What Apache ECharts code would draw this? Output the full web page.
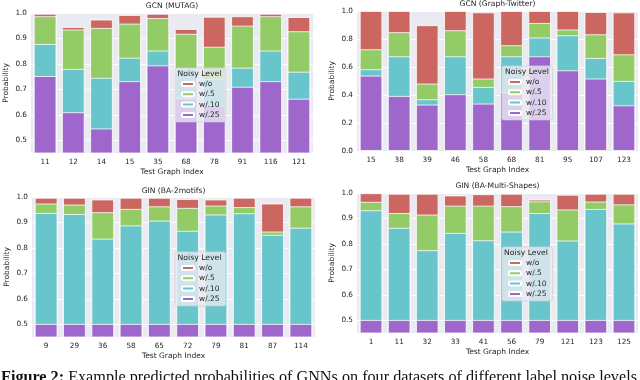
<!DOCTYPE html>
<html>
<head>
<meta charset="utf-8">
<script src="https://cdn.jsdelivr.net/npm/echarts@6/dist/echarts.min.js"></script>
<style>
  html, body { margin: 0; padding: 0; background: #fff; }
  #main { width: 640px; height: 380px; }
</style>
</head>
<body>
<div id="main"></div>
<script>
// legend / noise levels
var levels = ["w/o", "w/.5", "w/.10", "w/.25"];

// GCN (MUTAG)
var mutagIdx = ["11", "12", "14", "15", "35", "68", "78", "91", "116", "121"];
var mutagWo  = [0.997, 0.945, 0.974, 0.992, 0.997, 0.937, 0.985, 0.987, 0.997, 0.984];
var mutagW5  = [0.987, 0.935, 0.941, 0.958, 0.980, 0.918, 0.867, 0.950, 0.987, 0.928];
var mutagW10 = [0.878, 0.780, 0.745, 0.824, 0.852, 0.780, 0.740, 0.785, 0.852, 0.769];
var mutagW25 = [0.752, 0.610, 0.546, 0.732, 0.794, 0.665, 0.635, 0.710, 0.732, 0.663];

// GCN (Graph-Twitter)
var twitterIdx = ["15", "38", "39", "46", "58", "68", "81", "95", "107", "123"];
var twitterWo  = [1.000, 1.000, 0.898, 1.000, 0.990, 1.000, 1.000, 1.000, 0.993, 0.990];
var twitterW5  = [0.726, 0.848, 0.481, 0.862, 0.517, 0.755, 0.914, 0.867, 0.833, 0.690];
var twitterW10 = [0.583, 0.676, 0.369, 0.676, 0.457, 0.676, 0.810, 0.826, 0.664, 0.500];
var twitterW25 = [0.538, 0.393, 0.331, 0.405, 0.338, 0.420, 0.676, 0.576, 0.517, 0.326];

// GIN (BA-2motifs)
var motifsIdx = ["9", "29", "36", "58", "65", "72", "79", "81", "87", "114"];
var motifsWo  = [0.997, 0.997, 0.990, 0.997, 0.997, 0.992, 0.990, 0.997, 0.974, 0.997];
var motifsW5  = [0.974, 0.970, 0.940, 0.953, 0.963, 0.957, 0.966, 0.960, 0.864, 0.963];
var motifsW10 = [0.937, 0.933, 0.836, 0.888, 0.907, 0.867, 0.931, 0.936, 0.851, 0.879];
var motifsW25 = [0.501, 0.501, 0.501, 0.501, 0.501, 0.501, 0.501, 0.501, 0.501, 0.501];

// GIN (BA-Multi-Shapes)
var shapesIdx = ["1", "11", "32", "33", "41", "56", "79", "121", "123", "125"];
var shapesWo  = [0.999, 0.997, 0.997, 0.990, 0.995, 0.997, 0.974, 0.993, 0.997, 0.997];
var shapesW5  = [0.965, 0.921, 0.915, 0.950, 0.950, 0.948, 0.967, 0.935, 0.966, 0.955];
var shapesW10 = [0.932, 0.863, 0.775, 0.843, 0.814, 0.848, 0.921, 0.813, 0.937, 0.880];
var shapesW25 = [0.501, 0.501, 0.501, 0.501, 0.501, 0.501, 0.501, 0.501, 0.501, 0.501];

var colors = ["#cb6760", "#93cb67", "#67c5cb", "#9f67cb"];
var font = "DejaVu Sans";
var txt = "#262626";

var panels = [
  { title: "GCN (MUTAG)", cats: mutagIdx, vals: [mutagWo, mutagW5, mutagW10, mutagW25],
    grid: { left: 31, top: 13, width: 282, height: 140 }, min: 0.45, step: 0.05,
    titleY: 2, legend: { left: 175, top: 68 }, legTitle: [199.5, 70] },
  { title: "GCN (Graph-Twitter)", cats: twitterIdx, vals: [twitterWo, twitterW5, twitterW10, twitterW25],
    grid: { left: 357, top: 11, width: 281, height: 140 }, min: 0, step: 0.2,
    titleY: 0.5, legend: { left: 502, top: 66 }, legTitle: [527, 68] },
  { title: "GIN (BA-2motifs)", cats: motifsIdx, vals: [motifsWo, motifsW5, motifsW10, motifsW25],
    grid: { left: 32, top: 197, width: 283, height: 140 }, min: 0.45, step: 0.05,
    titleY: 186.7, legend: { left: 175, top: 252 }, legTitle: [199.5, 254] },
  { title: "GIN (BA-Multi-Shapes)", cats: shapesIdx, vals: [shapesWo, shapesW5, shapesW10, shapesW25],
    grid: { left: 357, top: 193, width: 281, height: 140 }, min: 0.45, step: 0.05,
    titleY: 182, legend: { left: 502, top: 247 }, legTitle: [526, 249] }
];

var grids = [], xAxes = [], yAxes = [], series = [], titles = [], legends = [];

panels.forEach(function (p, i) {
  grids.push({
    left: p.grid.left, top: p.grid.top, width: p.grid.width, height: p.grid.height,
    show: true, backgroundColor: "#eaeaf2", borderWidth: 0
  });
  xAxes.push({
    type: "category", gridIndex: i, data: p.cats,
    axisLine: { show: false }, axisTick: { show: false },
    axisLabel: { color: txt, fontFamily: font, fontSize: 7.3, margin: 6 },
    name: "Test Graph Index", nameLocation: "middle", nameGap: 15.5,
    nameTextStyle: { color: txt, fontFamily: font, fontSize: 7.5 }
  });
  // half-steps below 0.5 are only there so the axis can start at 0.45
  var half = p.step === 0.05;
  yAxes.push({
    type: "value", gridIndex: i, min: p.min, max: 1, interval: p.step,
    axisLine: { show: false }, axisTick: { show: false },
    axisLabel: {
      color: txt, fontFamily: font, fontSize: 7.3, margin: 4,
      formatter: function (v) {
        if (half && Math.round(v * 100) % 10 !== 0) return "";
        return v.toFixed(1);
      }
    },
    splitLine: { show: true, lineStyle: { color: half ? ["rgba(0,0,0,0)", "#ffffff"] : "#ffffff", width: 1 } },
    name: "Probability", nameLocation: "middle", nameGap: 20.5,
    nameTextStyle: { color: txt, fontFamily: font, fontSize: 7.5 }
  });
  titles.push({
    text: p.title, left: p.grid.left + p.grid.width / 2, top: p.titleY, textAlign: "center", padding: 0,
    textStyle: { color: txt, fontFamily: font, fontSize: 7.6, fontWeight: "normal" }
  });
  titles.push({
    text: "Noisy Level", left: p.legTitle[0], top: p.legTitle[1], textAlign: "center", padding: 0, z: 10,
    textStyle: { color: txt, fontFamily: font, fontSize: 7.7, fontWeight: "normal" }
  });
  legends.push({
    data: levels, orient: "vertical", left: p.legend.left, top: p.legend.top,
    padding: [12, 6, 3, 6], itemWidth: 12, itemHeight: 4, itemGap: 2.3,
    backgroundColor: "rgba(234,234,242,0.8)", borderColor: "#d2d2da", borderWidth: 0.8, borderRadius: 2,
    selectedMode: false,
    textStyle: { color: txt, fontFamily: font, fontSize: 7.5, lineHeight: 8 }
  });
  levels.forEach(function (lv, k) {
    series.push({
      name: lv, type: "bar", xAxisIndex: i, yAxisIndex: i, data: p.vals[k],
      barGap: "-100%", barCategoryGap: "20%",
      itemStyle: { color: colors[k], borderColor: "#ffffff", borderWidth: 0.8 },
      animation: false, silent: true
    });
  });
});

var myChart = echarts.init(document.getElementById("main"));
var option = {
  backgroundColor: "#ffffff",
  animation: false,
  title: titles,
  legend: legends,
  grid: grids,
  xAxis: xAxes,
  yAxis: yAxes,
  series: series,
  graphic: [{
    type: "text", left: 1, top: 369.5,
    style: {
      text: "{b|Figure 2:} Example predicted probabilities of GNNs on four datasets of different label noise levels",
      fill: "#111", font: "16.2px 'Liberation Serif'",
      rich: { b: { fontWeight: "bold", fontFamily: "Liberation Serif", fontSize: 16.2, fill: "#111" } }
    }
  }]
};
option && myChart.setOption(option);
</script>
</body>
</html>
